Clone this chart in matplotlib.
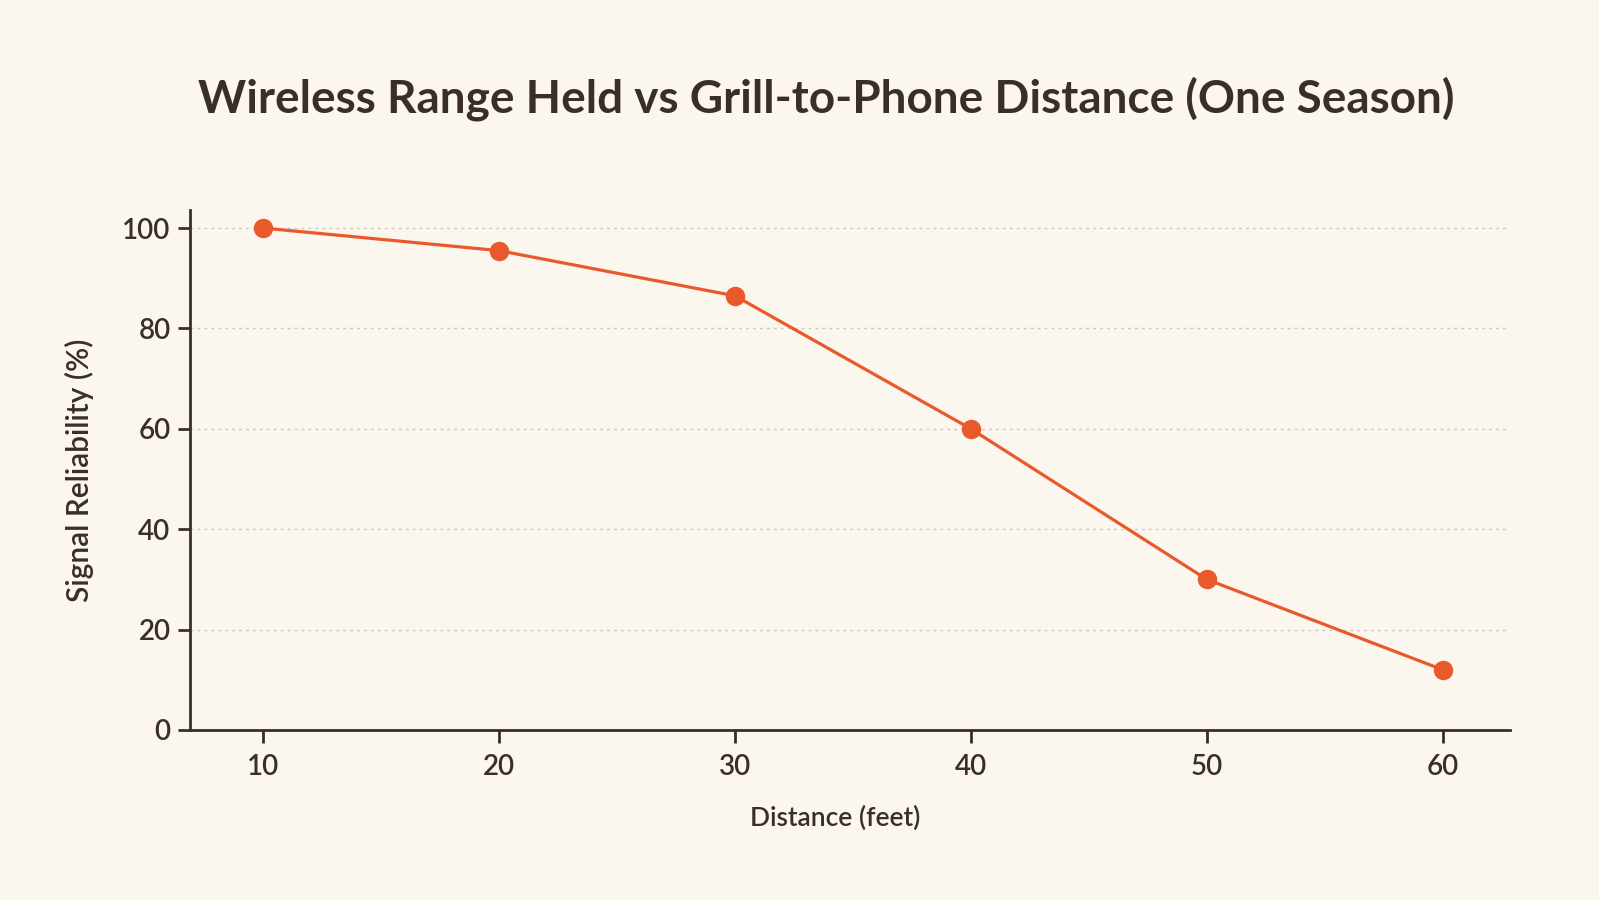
import matplotlib
matplotlib.use("Agg")
import matplotlib.pyplot as plt

# data
distance_ft = [10, 20, 30, 40, 50, 60]
reliability = [100, 95.5, 86.5, 60, 30, 12]
y_ticks = [0, 20, 40, 60, 80, 100]

bg = "#FBF6EE"
ink = "#3A2F27"
orange = "#E85A2C"

plt.rcParams['font.family'] = ['Lato', 'DejaVu Sans']

fig = plt.figure(figsize=(15.99, 9.0), dpi=100, facecolor=bg)
ax = fig.add_axes([0.1188, 0.1889, 0.8255, 0.5778], facecolor=bg)

ax.plot(distance_ft, reliability, color=orange, lw=2.3, marker='o',
        markersize=13, markerfacecolor=orange, markeredgecolor=orange, zorder=3)

ax.set_xlim(6.9, 62.85)
ax.set_ylim(0, 103.6)
ax.set_xticks(distance_ft)
ax.set_yticks(y_ticks)
ax.grid(axis='y', color='#CFC8BE', linestyle=(0, (2, 3)), linewidth=1.0)
ax.set_axisbelow(True)

for side in ['top', 'right']:
    ax.spines[side].set_visible(False)
for side in ['left', 'bottom']:
    ax.spines[side].set_color(ink)
    ax.spines[side].set_linewidth(2.0)

ax.tick_params(axis='both', colors=ink, labelcolor=ink, labelsize=20,
               width=2.0, length=9, direction='out')
ax.tick_params(axis='x', pad=8)
ax.tick_params(axis='y', pad=5)
for lbl in ax.get_xticklabels() + ax.get_yticklabels():
    lbl.set_fontweight('semibold')

ax.set_xlabel("Distance (feet)", fontsize=19, color=ink, fontweight='semibold')
ax.xaxis.set_label_coords(0.489, -0.145)
ax.set_ylabel("Signal Reliability (%)", fontsize=21.5, color=ink, fontweight='semibold')
ax.yaxis.set_label_coords(-0.073, 0.5)

fig.text(0.517, 0.89, "Wireless Range Held vs Grill-to-Phone Distance (One Season)",
         ha='center', va='center', fontsize=33, fontweight='bold', color=ink)

fig.savefig("out.png", dpi=100, facecolor=bg)
